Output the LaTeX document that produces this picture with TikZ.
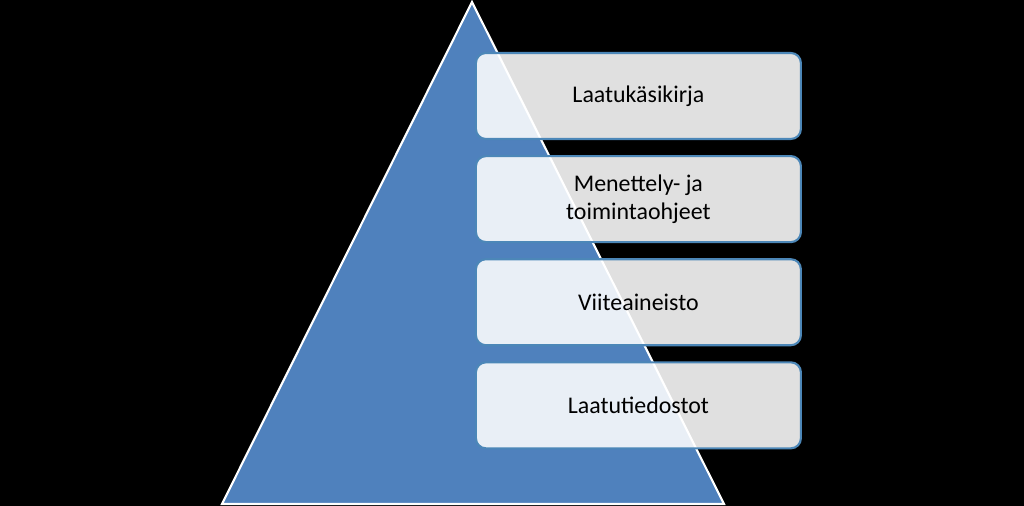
\documentclass[tikz,border=0pt]{standalone}
\usepackage{fontspec}
\setmainfont{Carlito}
\usetikzlibrary{positioning}

\begin{document}
\begin{tikzpicture}[
    node distance=0.375cm,
    tier/.style={rectangle, rounded corners=0.25cm, draw=blue!45!cyan!60!black!70!white, line width=1.5pt,
      fill=white, fill opacity=0.88, text opacity=1, minimum width=8.125cm, minimum height=2.15cm,
      align=center, font=\fontsize{17}{20}\selectfont}
]
% Background
\fill[black] (0,0) rectangle (25.6,12.65);
\useasboundingbox (0,0) rectangle (25.6,12.65);

% Pyramid
\coordinate (apex) at (11.8,12.6);
\coordinate (left) at (5.55,0.05);
\coordinate (right) at (18.1,0.05);
\draw[fill={rgb,255:red,79;green,129;blue,189}, draw=white, line width=1.5pt] (apex) -- (left) -- (right) -- cycle;

% Tiers
\node[tier] (manual) at (15.96,10.25) {Laatukäsikirja};
\node[tier, below=of manual] (proc) {Menettely- ja\\toimintaohjeet};
\node[tier, below=of proc] (refs) {Viiteaineisto};
\node[tier, below=of refs] (files) {Laatutiedostot};

\end{tikzpicture}
\end{document}
